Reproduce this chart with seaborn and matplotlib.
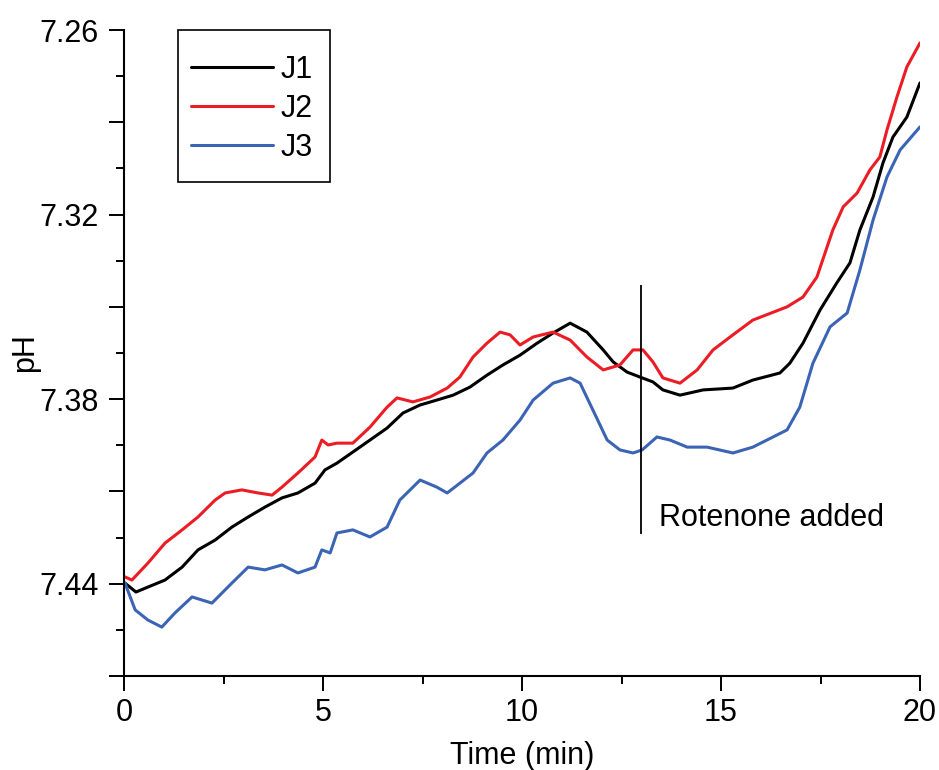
import numpy as np
import pandas as pd
import matplotlib.pyplot as plt
from matplotlib.patches import Rectangle
from matplotlib.ticker import FixedLocator, FixedFormatter
import seaborn as sns

# values
j1_time = [0.025, 0.30, 1.03, 1.46, 1.86, 2.29, 2.71, 3.12, 3.54, 3.97, 4.37, 4.80, 5.05,
           5.35, 5.75, 6.18, 6.61, 7.01, 7.44, 7.86, 8.27, 8.69, 9.12, 9.52, 9.95, 10.38,
           10.78, 11.21, 11.63, 12.04, 12.29, 12.64, 13.02, 13.29, 13.54, 13.97, 14.55,
           15.30, 15.80, 16.48, 16.73, 17.06, 17.49, 17.91, 18.24, 18.49, 18.82, 19.07,
           19.32, 19.67, 20.0]
j1_ph = [7.4398, 7.4427, 7.4388, 7.4346, 7.4290, 7.4258, 7.4216, 7.4183, 7.4151, 7.4121,
         7.4105, 7.4073, 7.4030, 7.4008, 7.3972, 7.3933, 7.3894, 7.3845, 7.3819, 7.3803,
         7.3787, 7.3761, 7.3722, 7.3689, 7.3657, 7.3618, 7.3585, 7.3553, 7.3582, 7.3640,
         7.3679, 7.3712, 7.3731, 7.3744, 7.3770, 7.3787, 7.3770, 7.3764, 7.3738, 7.3715,
         7.3683, 7.3618, 7.3510, 7.3422, 7.3357, 7.3250, 7.3143, 7.3032, 7.2948, 7.2883,
         7.2772]

j2_time = [0.025, 0.20, 0.60, 1.03, 1.46, 1.86, 2.29, 2.54, 2.96, 3.37, 3.72, 3.97, 4.37,
           4.80, 4.97, 5.13, 5.35, 5.75, 6.18, 6.61, 6.86, 7.26, 7.69, 8.12, 8.44, 8.77,
           9.12, 9.45, 9.70, 9.95, 10.28, 10.78, 11.21, 11.63, 12.04, 12.46, 12.79, 13.04,
           13.29, 13.54, 13.97, 14.40, 14.80, 15.30, 15.80, 16.66, 17.06, 17.41, 17.81,
           18.07, 18.42, 18.74, 18.99, 19.17, 19.42, 19.67, 20.0]
j2_ph = [7.4378, 7.4388, 7.4333, 7.4268, 7.4225, 7.4183, 7.4128, 7.4105, 7.4095, 7.4105,
         7.4112, 7.4086, 7.4040, 7.3988, 7.3933, 7.3949, 7.3943, 7.3943, 7.3891, 7.3826,
         7.3796, 7.3809, 7.3793, 7.3764, 7.3728, 7.3663, 7.3618, 7.3582, 7.3591, 7.3624,
         7.3598, 7.3582, 7.3608, 7.3663, 7.3705, 7.3689, 7.3640, 7.3640, 7.3679, 7.3731,
         7.3748, 7.3705, 7.3640, 7.3591, 7.3543, 7.3500, 7.3468, 7.3403, 7.3250, 7.3175,
         7.3130, 7.3055, 7.3013, 7.2925, 7.2818, 7.2720, 7.2642]

j3_time = [0.025, 0.28, 0.60, 0.95, 1.28, 1.71, 2.21, 2.71, 3.12, 3.54, 3.97, 4.37, 4.80,
           4.97, 5.18, 5.35, 5.75, 6.18, 6.61, 6.93, 7.44, 7.86, 8.12, 8.44, 8.77, 9.12,
           9.52, 9.95, 10.28, 10.78, 11.21, 11.46, 11.78, 12.14, 12.46, 12.79, 13.02,
           13.39, 13.72, 14.15, 14.65, 15.30, 15.80, 16.66, 16.98, 17.31, 17.74, 18.17,
           18.49, 18.82, 19.17, 19.50, 20.0]
j3_ph = [7.4398, 7.4485, 7.4518, 7.4541, 7.4495, 7.4443, 7.4463, 7.4398, 7.4346, 7.4355,
         7.4339, 7.4365, 7.4346, 7.4290, 7.4300, 7.4235, 7.4225, 7.4248, 7.4216, 7.4128,
         7.4063, 7.4086, 7.4105, 7.4073, 7.4040, 7.3975, 7.3933, 7.3868, 7.3803, 7.3748,
         7.3731, 7.3748, 7.3835, 7.3933, 7.3965, 7.3975, 7.3965, 7.3923, 7.3933, 7.3956,
         7.3956, 7.3975, 7.3956, 7.3900, 7.3826, 7.3683, 7.3565, 7.3520, 7.3380, 7.3218,
         7.3078, 7.2990, 7.2915]

samples = ["J1", "J2", "J3"]
colors = ["#000000", "#ec1c24", "#3b64b4"]

rotenone_time = 13.0
rotenone_ph = (7.343, 7.424)
rotenone_label = "Rotenone added"

y_major = [7.26, 7.29, 7.32, 7.35, 7.38, 7.41, 7.44, 7.47]
y_labels = ["7.26", "", "7.32", "", "7.38", "", "7.44", ""]
y_minor = [7.275, 7.305, 7.335, 7.365, 7.395, 7.425, 7.455]
x_major = [0, 5, 10, 15, 20]
x_minor = [2.5, 7.5, 12.5, 17.5]

df = pd.concat([
    pd.DataFrame({"Time": t, "pH": p, "Sample": s})
    for t, p, s in zip([j1_time, j2_time, j3_time], [j1_ph, j2_ph, j3_ph], samples)
])

sns.set_style("ticks")
plt.rcParams["font.family"] = ["Liberation Sans", "DejaVu Sans"]
plt.rcParams.update({"text.color": "black", "axes.labelcolor": "black",
                     "xtick.color": "black", "ytick.color": "black"})
FS = 22

fig = plt.figure(figsize=(9.39, 7.7), dpi=100)
ax = fig.add_axes([124 / 939, 1 - 676 / 770, 796 / 939, 646 / 770])

sns.lineplot(data=df, x="Time", y="pH", hue="Sample", palette=dict(zip(samples, colors)),
             linewidth=2.2, sort=True, estimator=None, ax=ax)

ax.vlines(rotenone_time, *rotenone_ph, color="black", linewidth=1.3)
ax.text(rotenone_time + 0.45, 7.4185, rotenone_label, fontsize=FS, va="center", ha="left")

ax.set_xlim(0, 20)
ax.set_ylim(7.47, 7.26)
ax.xaxis.set_major_locator(FixedLocator(x_major))
ax.xaxis.set_minor_locator(FixedLocator(x_minor))
ax.yaxis.set_major_locator(FixedLocator(y_major))
ax.yaxis.set_major_formatter(FixedFormatter(y_labels))
ax.yaxis.set_minor_locator(FixedLocator(y_minor))

ax.tick_params(which="major", length=11, width=1.4, labelsize=FS)
ax.tick_params(which="minor", length=6, width=1.4)
ax.tick_params(axis="x", which="major", pad=5)
ax.tick_params(axis="y", which="major", pad=7)
for side in ["left", "bottom"]:
    ax.spines[side].set_linewidth(1.5)
    ax.spines[side].set_color("black")
sns.despine(ax=ax)

ax.set_xlabel("Time (min)", fontsize=FS, labelpad=9)
ax.set_ylabel("pH", fontsize=FS, labelpad=0)

leg = ax.legend(loc="upper left", bbox_to_anchor=(50 / 796, 1 - 8 / 646), borderaxespad=0,
                fontsize=FS, handlelength=2.7, handletextpad=0.25, labelspacing=0.30,
                borderpad=0.55, frameon=False)
for line in leg.get_lines():
    line.set_linewidth(2.2)
# legend frame drawn as a plain square box
ax.add_patch(Rectangle((54 / 796, 494 / 646), 152 / 796, 152 / 646, transform=ax.transAxes,
                       fill=False, edgecolor="black", linewidth=1.2, clip_on=False, zorder=5))

plt.savefig("out.png", dpi=100)
